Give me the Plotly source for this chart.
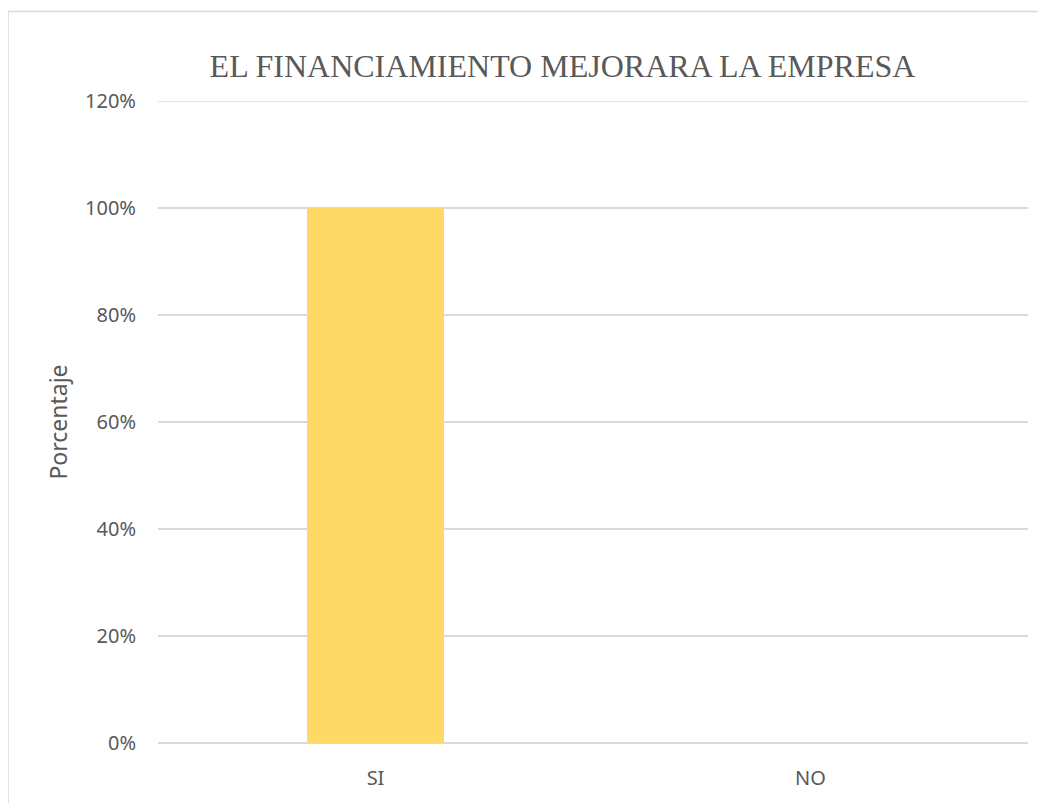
import plotly.graph_objects as go

categories = ["SI", "NO"]
values = [1.00, 0.00]
tick_vals = [0, 0.2, 0.4, 0.6, 0.8, 1.0, 1.2]
tick_text = ["0%", "20%", "40%", "60%", "80%", "100%", "120%"]

OFF = 8  # page body offset
W, H = 1046 - OFF, 803 - OFF
L, R, T = 158 - OFF, 18, 101 - OFF
ph = 646
B = H - T - ph
pw = W - L - R

fig = go.Figure(go.Bar(x=categories, y=values, marker=dict(color="#FFD966", line=dict(width=0)),
                       hoverinfo="x+y"))

txt = "#595959"
fig.update_layout(
    width=W, height=H,
    margin=dict(l=L, r=R, t=T, b=B),
    paper_bgcolor="white", plot_bgcolor="white",
    bargap=0.685,
    showlegend=False,
    title=dict(text="EL FINANCIAMIENTO MEJORARA LA EMPRESA",
               font=dict(family="Liberation Serif", size=32, color=txt),
               x=(562.5 - OFF) / W, xanchor="center", xref="container",
               y=1 - (66 - OFF) / H, yanchor="middle", yref="container"),
    xaxis=dict(showgrid=False, showline=False, zeroline=False, ticks="",
               tickfont=dict(family="Noto Sans", size=20, color=txt),
               ticklabelstandoff=21),
    yaxis=dict(range=[0, tick_vals[-1]], tickvals=tick_vals, ticktext=tick_text,
               showgrid=True, gridcolor="#D9D9D9", gridwidth=1.5,
               zeroline=True, zerolinecolor="#D9D9D9", zerolinewidth=1.7,
               showline=False, ticks="",
               tickfont=dict(family="Noto Sans", size=20, color=txt),
               ticklabelstandoff=21,
               title=dict(text="Porcentaje", font=dict(family="Noto Sans", size=23, color=txt),
                          standoff=10)),
    shapes=[
        dict(type="rect", xref="paper", yref="paper",
             x0=(8 - 158) / pw, x1=1.2, y0=-0.2, y1=(747 - 11) / ph,
             line=dict(color="#D9D9D9", width=1.5), fillcolor="rgba(0,0,0,0)", layer="below"),
        dict(type="line", xref="paper", yref="y", x0=0, x1=1,
             y0=tick_vals[-1], y1=tick_vals[-1],
             line=dict(color="#D9D9D9", width=1.5), layer="below"),
    ],
)

fig.write_html("out.html")
